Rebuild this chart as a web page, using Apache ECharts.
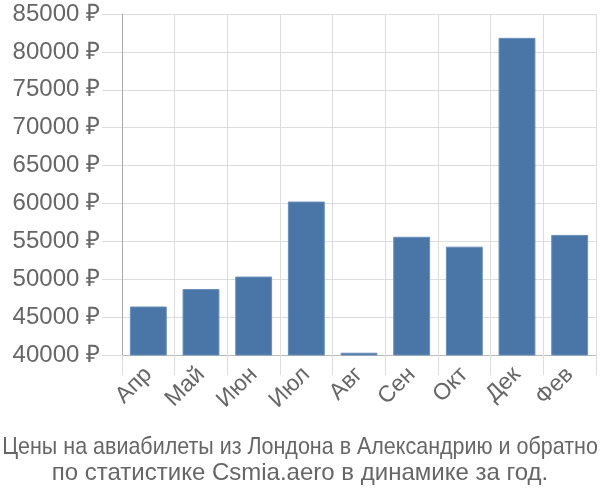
<!DOCTYPE html>
<html><head><meta charset="utf-8">
<script src="https://cdn.jsdelivr.net/npm/echarts@6/dist/echarts.min.js"></script>
<style>html,body{margin:0;padding:0;background:#fff}#c{width:600px;height:500px}</style>
</head><body><div id="c"></div>
<script>
const categories = ['Апр','Май','Июн','Июл','Авг','Сен','Окт','Дек','Фев'];
const prices = [46400, 48700, 50350, 60250, 40300, 55600, 54300, 81850, 55850];
const titleLines = ['Цены на авиабилеты из Лондона в Александрию и обратно','по статистике Csmia.aero в динамике за год.'];

const chart = echarts.init(document.getElementById('c'));
const titleFont = 'normal 24px "Liberation Sans"';
chart.setOption({
  animation: false,
  graphic: [
    {type: 'text', x: 300, y: 447, scaleX: 0.895, style: {text: titleLines[0], font: titleFont, fill: '#666', align: 'center', verticalAlign: 'middle'}},
    {type: 'text', x: 300, y: 473, style: {text: titleLines[1], font: titleFont, fill: '#666', align: 'center', verticalAlign: 'middle'}}
  ],
  grid: {left: 122, right: 4, top: 14, bottom: 145},
  xAxis: {
    type: 'category', data: categories,
    axisLine: {show: true, lineStyle: {color: '#bbb'}},
    axisTick: {show: true, length: 20, lineStyle: {color: '#ddd'}},
    splitLine: {show: true, lineStyle: {color: '#ddd'}},
    axisLabel: {rotate: 45, fontFamily: 'Liberation Sans', fontSize: 23, color: '#666', margin: 16}
  },
  yAxis: {
    type: 'value', min: 40000, max: 85000, interval: 5000,
    axisLine: {show: true, lineStyle: {color: '#aaa'}},
    axisTick: {show: true, length: 20, lineStyle: {color: '#ddd'}},
    splitLine: {show: true, lineStyle: {color: '#ddd'}},
    axisLabel: {formatter: v => v + ' ₽', fontFamily: 'Liberation Sans', fontSize: 24, color: '#666', margin: 22}
  },
  series: [{
    type: 'bar', data: prices, barWidth: '70%',
    itemStyle: {color: '#4a76a7', borderColor: '#6a8fbb', borderWidth: 1}
  }]
});
</script></body></html>
